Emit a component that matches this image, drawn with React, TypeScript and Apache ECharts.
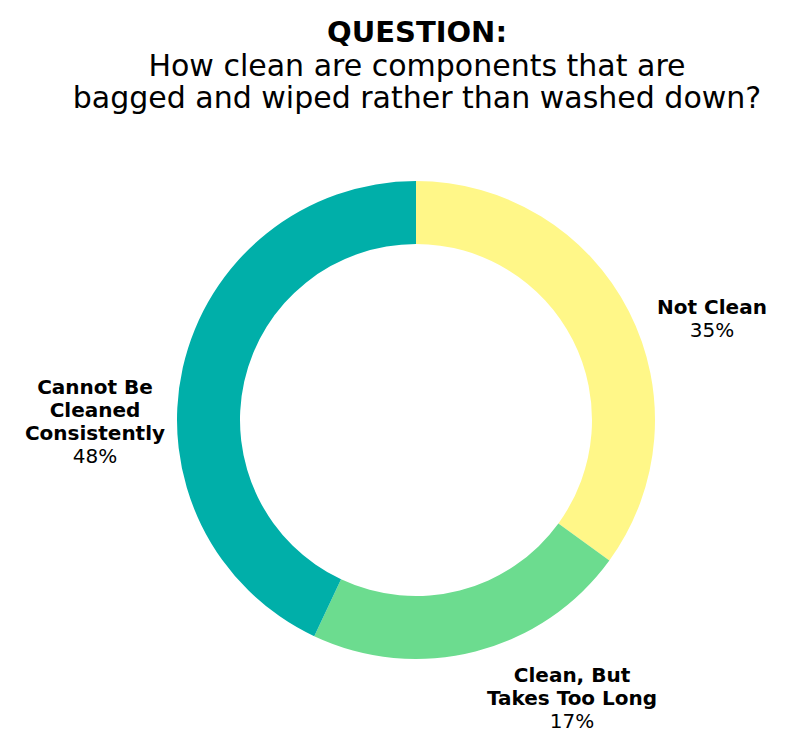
import React, { useEffect, useRef } from 'react';
import * as echarts from 'echarts';

// slice sizes as drawn (arc lengths)
const categories = ['Not Clean', 'Clean, But Takes Too Long', 'Cannot Be Cleaned Consistently'];
const sliceValues = [35, 22, 43];
// percentages as printed on the labels
const labelPercents = ['35%', '17%', '48%'];
const labelLines = [['Not Clean'], ['Clean, But', 'Takes Too Long'], ['Cannot Be', 'Cleaned', 'Consistently']];
const colors = ['#FFF788', '#6CDC8F', '#00AFA9'];

// label anchor (centre x, top y) for each slice
const labelAnchors = [
  [712, 295],
  [572, 663],
  [95, 375],
];

const FONT = '"DejaVu Sans", sans-serif';

const App = () => {
  const ref = useRef<HTMLDivElement>(null);

  useEffect(() => {
    document.body.style.margin = '0';
    if (!ref.current) return;
    const chart = echarts.init(ref.current, undefined, { renderer: 'svg' });

    const option: echarts.EChartsOption = {
      animation: false,
      backgroundColor: '#ffffff',
      title: {
        text: 'QUESTION:',
        subtext: 'How clean are components that are\nbagged and wiped rather than washed down?',
        left: 412,
        top: 10,
        textAlign: 'center',
        itemGap: 0,
        textStyle: { fontFamily: FONT, fontWeight: 'bold', fontSize: 29, color: '#000', lineHeight: 34 },
        subtextStyle: { fontFamily: FONT, fontSize: 30, color: '#000', lineHeight: 32 },
      },
      series: [
        {
          type: 'pie',
          center: [416, 420],
          radius: [176, 239],
          startAngle: 90,
          clockwise: true,
          silent: true,
          labelLine: { show: false },
          label: {
            show: true,
            position: 'outside',
            align: 'center',
            overflow: 'none',
            fontFamily: FONT,
            formatter: (p: any) =>
              labelLines[p.dataIndex].map((l) => `{b|${l}}`).join('\n') + `\n{v|${labelPercents[p.dataIndex]}}`,
            rich: {
              b: { fontFamily: FONT, fontWeight: 'bold', fontSize: 20, lineHeight: 23, color: '#000', align: 'center' },
              v: { fontFamily: FONT, fontSize: 20, lineHeight: 23, color: '#000', align: 'center' },
            },
          },
          labelLayout: (p: any) => ({
            x: labelAnchors[p.dataIndex][0],
            y: labelAnchors[p.dataIndex][1],
            align: 'center',
            verticalAlign: 'top',
          }),
          data: categories.map((name, i) => ({
            name,
            value: sliceValues[i],
            itemStyle: { color: colors[i] },
          })),
        },
      ],
    };
    chart.setOption(option);

    return () => {
      chart.dispose();
    };
  }, []);

  return <div ref={ref} style={{ width: '800px', height: '753px' }} />;
};

export default App;
